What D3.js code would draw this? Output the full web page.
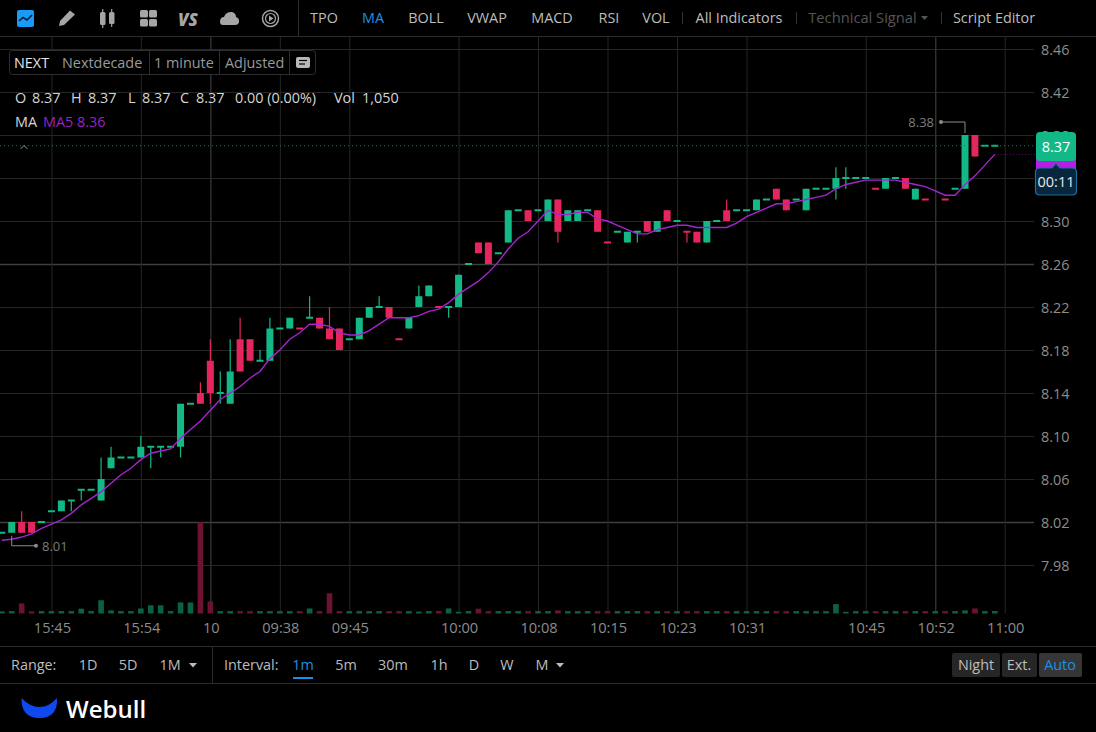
<!DOCTYPE html>
<html>
<head>
<meta charset="utf-8">
<script src="https://cdn.jsdelivr.net/npm/d3@7"></script>
<style>
  html, body { margin: 0; padding: 0; background: #000; overflow: hidden; }
  text { font-family: "Open Sans", sans-serif; }
</style>
</head>
<body>
<div id="wrapper"></div>
<script>
// 1. Data (one entry per minute bar, null = no bar drawn)
const opens = [8.01,8.01,8.02,8.02,8.02,8.03,8.03,8.04,8.05,8.05,
  8.04,8.07,8.08,8.08,8.08,8.09,8.09,8.09,8.09,8.13,
  8.14,8.17,8.14,8.13,8.19,8.19,8.17,8.17,8.20,8.20,
  8.20,8.21,8.21,8.20,8.20,8.19,8.19,8.21,8.22,8.22,
  8.19,8.20,8.22,8.23,8.22,8.22,8.22,8.26,8.28,8.28,
  8.27,8.28,8.31,8.31,8.31,8.30,8.32,8.30,8.30,8.31,
  8.31,8.28,8.29,8.28,8.29,8.30,8.29,8.31,8.30,8.29,
  8.29,8.28,8.30,8.31,8.31,8.31,8.31,8.32,8.33,8.32,
  8.32,8.31,8.33,8.33,8.33,8.34,8.34,8.34,8.33,8.33,
  8.34,8.34,8.32,8.32,null,8.32,8.33,8.33,8.38,8.37,8.37];
const highs = [8.01,8.02,8.03,8.02,8.02,8.03,8.04,8.04,8.05,8.05,
  8.08,8.09,8.08,8.08,8.10,8.09,8.09,8.09,8.13,8.13,
  8.15,8.19,8.16,8.19,8.21,8.19,8.18,8.21,8.20,8.21,
  8.20,8.23,8.21,8.22,8.20,8.19,8.21,8.22,8.23,8.22,
  8.19,8.21,8.24,8.24,8.22,8.22,8.25,8.26,8.28,8.28,
  8.27,8.31,8.31,8.31,8.31,8.32,8.32,8.31,8.31,8.31,
  8.31,8.28,8.29,8.29,8.29,8.30,8.30,8.31,8.30,8.29,
  8.29,8.30,8.30,8.32,8.31,8.31,8.32,8.32,8.33,8.32,
  8.32,8.33,8.33,8.33,8.35,8.35,8.34,8.34,8.33,8.34,
  8.34,8.34,8.33,8.32,null,8.32,8.33,8.38,8.38,8.37,8.37];
const lows = [8.01,8.01,8.01,8.01,8.02,8.03,8.03,8.03,8.04,8.05,
  8.04,8.07,8.08,8.08,8.08,8.07,8.08,8.09,8.08,8.13,
  8.13,8.13,8.13,8.13,8.16,8.17,8.17,8.17,8.20,8.20,
  8.20,8.21,8.20,8.19,8.18,8.19,8.19,8.21,8.22,8.21,
  8.19,8.20,8.22,8.23,8.22,8.21,8.22,8.26,8.27,8.26,
  8.27,8.28,8.31,8.30,8.31,8.30,8.28,8.30,8.30,8.31,
  8.29,8.28,8.29,8.28,8.28,8.29,8.29,8.30,8.30,8.28,
  8.28,8.28,8.30,8.30,8.31,8.31,8.31,8.32,8.32,8.31,
  8.32,8.31,8.33,8.33,8.32,8.33,8.34,8.34,8.33,8.33,
  8.34,8.33,8.32,8.32,null,8.32,8.33,8.33,8.36,8.37,8.37];
const closes = [8.01,8.02,8.01,8.01,8.02,8.03,8.04,8.04,8.05,8.05,
  8.06,8.08,8.08,8.08,8.09,8.09,8.09,8.09,8.13,8.13,
  8.13,8.14,8.14,8.16,8.16,8.17,8.17,8.20,8.20,8.21,
  8.20,8.21,8.20,8.19,8.18,8.19,8.21,8.22,8.22,8.21,
  8.19,8.21,8.23,8.24,8.22,8.22,8.25,8.26,8.27,8.26,
  8.27,8.31,8.31,8.30,8.31,8.32,8.29,8.31,8.31,8.31,
  8.29,8.28,8.29,8.29,8.29,8.29,8.30,8.30,8.30,8.29,
  8.28,8.30,8.30,8.30,8.31,8.31,8.32,8.32,8.32,8.31,
  8.32,8.33,8.33,8.33,8.34,8.34,8.34,8.34,8.33,8.34,
  8.34,8.33,8.33,8.32,null,8.32,8.33,8.38,8.36,8.37,8.37];
// bars that open and close level but are painted red
const redFlat = [30, 40, 44, 61, 69, 88, 93, 95];
const volumes = [900,1000,4200,900,1000,1000,1000,1000,2000,1000,
  5500,1300,1000,1000,2100,3400,3400,1000,4600,4600,
  38000,5000,1000,1000,1000,1000,1000,1000,1000,1000,
  1000,2100,1000,8400,1000,1000,1000,1000,1000,1000,
  1000,1000,800,1000,1000,2100,700,1000,2000,1000,
  1000,1000,1000,1000,1000,1000,1300,1000,1000,1000,
  1000,1000,1000,1000,1000,1000,1000,1000,1000,1000,
  1000,1000,1000,1000,1000,1000,1000,1000,1000,1000,
  1000,1000,1000,1000,3900,700,1000,1000,1000,1000,
  1000,1000,1000,1000,1000,1000,1000,1300,2100,1000,1050];
const ma5 = [8.003,8.004,8.006,8.009,8.014,8.018,8.022,8.028,8.036,8.042,
  8.048,8.056,8.064,8.070,8.078,8.084,8.086,8.088,8.098,8.106,
  8.114,8.124,8.134,8.140,8.146,8.154,8.160,8.172,8.180,8.190,
  8.196,8.204,8.204,8.202,8.196,8.194,8.194,8.198,8.204,8.210,
  8.210,8.210,8.212,8.216,8.218,8.224,8.232,8.238,8.244,8.252,
  8.262,8.274,8.284,8.290,8.300,8.310,8.306,8.306,8.308,8.308,
  8.302,8.300,8.296,8.292,8.288,8.288,8.292,8.294,8.296,8.296,
  8.294,8.294,8.294,8.294,8.298,8.304,8.308,8.312,8.316,8.316,
  8.318,8.320,8.322,8.324,8.330,8.334,8.336,8.338,8.338,8.338,
  8.338,8.336,8.334,8.332,8.328,8.324,8.324,8.334,8.342,8.352,8.362];
const priceTicks = [7.98,8.02,8.06,8.10,8.14,8.18,8.22,8.26,8.30,8.34,8.38,8.42,8.46];
const timeIdx = [5,14,21,28,35,46,54,61,68,75,87,94,101];
const timeLabels = ['15:45','15:54','10','09:38','09:45','10:00','10:08','10:15','10:23','10:31','10:45','10:52','11:00'];
const strongPrices = [8.02, 8.26];
const strongTimes = [21, 94];
const lastPrice = 8.37;
const lastMa = 8.362;
const highMark = 8.38;
const lowMark = 8.01;

const bars = closes.map((c, i) => ({ i, o: opens[i], h: highs[i], l: lows[i], c, v: volumes[i] }));
const isRed = (d) => d.c < d.o || redFlat.includes(d.i);

// 2. Colours and scales
const GREEN = '#12b886';
const RED = '#e5265c';
const VOL_GREEN = '#0b6148';
const VOL_RED = '#6d1330';
const PURPLE = '#a524cf';
const GRAY = '#8c8c8c';
const LIGHT = '#bdbdbd';
const BLUE = '#1d8fe1';

const x = d3.scaleLinear().domain([0, 100]).range([1.8, 994.8]);
const y = d3.scaleLinear().domain([8.02, 8.46]).range([522, 49]);
const yVol = d3.scaleLinear().domain([0, 38000]).range([613.5, 522]);

const svg = d3.select('#wrapper').append('svg').attr('width', 1096).attr('height', 732)
  .style('display', 'block').style('background', '#000');

function label(px, py, str, color, opts = {}) {
  return svg.append('text').attr('x', px).attr('y', py).text(str)
    .attr('fill', color)
    .attr('font-size', opts.size || 14.4)
    .attr('font-weight', opts.weight || 400)
    .attr('font-style', opts.style || 'normal')
    .attr('text-anchor', opts.anchor || 'start');
}
function line(x1, y1, x2, y2, color, w = 1) {
  return svg.append('line').attr('x1', x1).attr('y1', y1).attr('x2', x2).attr('y2', y2)
    .attr('stroke', color).attr('stroke-width', w);
}

// 3. Axes and grid
const yAxis = d3.axisRight(y).tickValues(priceTicks).tickSize(1034).tickPadding(7).tickFormat(d3.format('.2f'));
const gy = svg.append('g').call(yAxis);
const xAxis = d3.axisBottom(x).tickValues(timeIdx).tickSizeInner(-576).tickSizeOuter(0).tickPadding(10)
  .tickFormat((d, i) => timeLabels[i]);
const gx = svg.append('g').attr('transform', 'translate(0,613)').call(xAxis);
gy.select('.domain').remove();
gx.select('.domain').remove();
gy.selectAll('line').attr('stroke', (d) => (strongPrices.includes(d) ? '#3f3f3f' : '#262626'))
  .attr('stroke-width', (d) => (strongPrices.includes(d) ? 1.6 : 1));
gx.selectAll('line').attr('stroke', (d) => (strongTimes.includes(d) ? '#323232' : '#262626'))
  .attr('stroke-width', (d) => (strongTimes.includes(d) ? 1.4 : 1));
svg.selectAll('.tick text').attr('fill', GRAY).attr('font-family', '"Open Sans", sans-serif');
gy.selectAll('.tick text').attr('font-size', 14.4).attr('dy', '0.4em');
gx.selectAll('.tick text').attr('font-size', 14.6).attr('dx', 0.5);

// 4. Volume
svg.append('g').selectAll('rect').data(bars).enter().append('rect')
  .attr('x', (d) => x(d.i) - 2.8)
  .attr('y', (d) => yVol(d.v))
  .attr('width', 5.6)
  .attr('height', (d) => yVol(0) - yVol(d.v))
  .attr('fill', (d) => (isRed(d) ? VOL_RED : VOL_GREEN));

// 5. Candles
const candles = bars.filter((d) => d.c !== null);
svg.append('g').selectAll('line').data(candles).enter().append('line')
  .attr('x1', (d) => x(d.i)).attr('x2', (d) => x(d.i))
  .attr('y1', (d) => y(d.h)).attr('y2', (d) => y(d.l))
  .attr('stroke-width', 1.2)
  .attr('stroke', (d) => (isRed(d) ? RED : GREEN));
svg.append('g').selectAll('rect').data(candles).enter().append('rect')
  .attr('x', (d) => x(d.i) - 3.5)
  .attr('y', (d) => (d.o === d.c ? y(d.c) - 1 : y(Math.max(d.o, d.c))))
  .attr('width', 7)
  .attr('height', (d) => (d.o === d.c ? 2 : y(Math.min(d.o, d.c)) - y(Math.max(d.o, d.c))))
  .attr('fill', (d) => (isRed(d) ? RED : GREEN));

// 6. MA line and last price guides
const maLine = d3.line().x((d, i) => x(i)).y((d) => y(d));
svg.append('path').attr('d', maLine(ma5)).attr('fill', 'none').attr('stroke', PURPLE).attr('stroke-width', 1.4);
line(x(100), y(lastMa), 1036, y(lastMa), '#5a1670').attr('stroke-dasharray', '1 2');
line(0, y(lastPrice), 1036, y(lastPrice), '#14785a').attr('stroke-dasharray', '1 3');

// high / low markers
const hx = x(97);
svg.append('path').attr('fill', 'none').attr('stroke', GRAY)
  .attr('d', `M${hx},${y(highMark) - 2}V${y(highMark) - 13}H941`);
svg.append('circle').attr('cx', 941).attr('cy', y(highMark) - 13).attr('r', 2).attr('fill', GRAY);
label(934, y(highMark) - 8, highMark.toFixed(2), '#7c7c7c', { anchor: 'end', size: 13 });
const lx = x(1);
svg.append('path').attr('fill', 'none').attr('stroke', GRAY)
  .attr('d', `M${lx},${y(lowMark) + 3}V${y(lowMark) + 13}H36`);
svg.append('circle').attr('cx', 36).attr('cy', y(lowMark) + 13).attr('r', 2).attr('fill', GRAY);
label(42, y(lowMark) + 18, lowMark.toFixed(2), '#7c7c7c', { size: 13 });

// price tags
svg.append('rect').attr('x', 1036).attr('y', 156).attr('width', 40).attr('height', 14).attr('fill', '#b31fe6');
svg.append('rect').attr('x', 1036).attr('y', 132).attr('width', 40).attr('height', 29).attr('rx', 4).attr('fill', GREEN);
label(1056, 152, lastPrice.toFixed(2), '#fff', { anchor: 'middle', size: 14.5 });
svg.append('path').attr('fill', '#08263d').attr('stroke', '#256b9c').attr('stroke-width', 1.2)
  .attr('d', 'M1040,168H1052L1056,163.5L1060,168H1072Q1076.5,168 1076.5,172V191Q1076.5,195 1072,195H1040Q1035.5,195 1035.5,191V172Q1035.5,168 1040,168Z');
label(1056, 187, '00:11', '#e8e8e8', { anchor: 'middle', size: 14.5 });

// 7. Top toolbar
svg.append('rect').attr('x', 0).attr('y', 0).attr('width', 1096).attr('height', 37).attr('fill', '#000');
line(0, 36.5, 1096, 36.5, '#2c2c2c');
line(298.5, 0, 298.5, 36, '#2c2c2c');
const iconGray = '#a6a6a6';
svg.append('rect').attr('x', 17).attr('y', 10).attr('width', 17).attr('height', 17).attr('rx', 2).attr('fill', '#1a9af5');
svg.append('path').attr('d', 'M19,21L23,17.5L27,20L32,15').attr('fill', 'none').attr('stroke', '#06223a').attr('stroke-width', 1.6);
svg.append('path').attr('fill', iconGray).attr('d', 'M59,26L60,21L70,10.5L75,14.5L64,25Z');
svg.append('rect').attr('x', 100).attr('y', 12).attr('width', 5.5).attr('height', 13).attr('rx', 1.5).attr('fill', iconGray);
svg.append('rect').attr('x', 109).attr('y', 12).attr('width', 5.5).attr('height', 12).attr('rx', 1.5).attr('fill', iconGray);
line(102.7, 9, 102.7, 28, iconGray, 1.2);
line(111.7, 9, 111.7, 27, iconGray, 1.2);
[[140, 10], [149, 10], [140, 19], [149, 19]].forEach((p) => {
  svg.append('rect').attr('x', p[0]).attr('y', p[1]).attr('width', 8).attr('height', 7.5).attr('rx', 1.5).attr('fill', iconGray);
});
label(178, 25.5, 'VS', iconGray, { size: 17, weight: 800, style: 'italic' });
svg.append('path').attr('fill', iconGray)
  .attr('d', 'M220,22Q220,17 224,17Q226,11.5 232,12Q236,13 236,17Q239.5,18 239,22Q238.5,25 235,25H223Q220,25 220,22Z');
svg.append('circle').attr('cx', 270.5).attr('cy', 18.5).attr('r', 8).attr('fill', 'none').attr('stroke', iconGray).attr('stroke-width', 1.5);
svg.append('circle').attr('cx', 270.5).attr('cy', 18.5).attr('r', 5).attr('fill', 'none').attr('stroke', iconGray).attr('stroke-width', 1.2);
svg.append('path').attr('d', 'M269,15.5L273.5,18.5L269,21.5Z').attr('fill', iconGray);
label(324, 23, 'TPO', LIGHT, { anchor: 'middle' });
label(373, 23, 'MA', BLUE, { anchor: 'middle' });
label(426, 23, 'BOLL', LIGHT, { anchor: 'middle' });
label(487, 23, 'VWAP', LIGHT, { anchor: 'middle' });
label(552, 23, 'MACD', LIGHT, { anchor: 'middle' });
label(609, 23, 'RSI', LIGHT, { anchor: 'middle' });
label(656, 23, 'VOL', LIGHT, { anchor: 'middle' });
label(739, 23, 'All Indicators', LIGHT, { anchor: 'middle' });
label(862.5, 23, 'Technical Signal', '#555', { anchor: 'middle', size: 14.7 });
label(994, 23, 'Script Editor', LIGHT, { anchor: 'middle' });
svg.append('path').attr('d', 'M921,16H928L924.5,20Z').attr('fill', '#555');
line(682.5, 12, 682.5, 24, '#333');
line(796.5, 12, 796.5, 24, '#333');
line(941.5, 12, 941.5, 24, '#333');

// 8. Legend box and OHLC readout
svg.append('rect').attr('x', 9.5).attr('y', 50.5).attr('width', 306).attr('height', 24).attr('rx', 3)
  .attr('fill', '#000').attr('stroke', '#2e2e2e');
line(149.5, 51, 149.5, 74, '#2e2e2e');
line(219.5, 51, 219.5, 74, '#2e2e2e');
line(289.5, 51, 289.5, 74, '#2e2e2e');
label(14, 68, 'NEXT', '#e6e6e6');
label(62, 68, 'Nextdecade', '#9a9a9a');
label(154, 68, '1 minute', '#9a9a9a');
label(225, 68, 'Adjusted', '#9a9a9a');
svg.append('rect').attr('x', 296).attr('y', 57).attr('width', 14).attr('height', 11).attr('rx', 2).attr('fill', '#b8b8b8');
line(299, 60.5, 307, 60.5, '#000', 1.2);
line(299, 64, 305, 64, '#000', 1.2);
[['O', 15], ['8.37', 32], ['H', 71], ['8.37', 88], ['L', 128], ['8.37', 142], ['C', 180], ['8.37', 196], ['0.00 (0.00%)', 235], ['Vol', 334], ['1,050', 362]]
  .forEach((t) => label(t[1], 103, t[0], '#d6d6d6'));
label(15, 127, 'MA', '#d6d6d6');
label(43, 127, 'MA5 8.36', '#9a22c4');
svg.append('path').attr('d', 'M20.5,149L24,145.5L27.5,149').attr('fill', 'none').attr('stroke', '#999').attr('stroke-width', 1);

// 9. Bottom bar
line(0, 646.5, 1096, 646.5, '#2c2c2c');
line(0, 683.5, 1096, 683.5, '#2c2c2c');
line(212.5, 647, 212.5, 683, '#2c2c2c');
label(11, 670, 'Range:', LIGHT);
label(88, 670, '1D', LIGHT, { anchor: 'middle' });
label(128, 670, '5D', LIGHT, { anchor: 'middle' });
label(170, 670, '1M', LIGHT, { anchor: 'middle' });
svg.append('path').attr('d', 'M189,663H197L193,667.5Z').attr('fill', LIGHT);
label(224, 670, 'Interval:', LIGHT);
label(303, 670, '1m', BLUE, { anchor: 'middle' });
svg.append('rect').attr('x', 293).attr('y', 677).attr('width', 20).attr('height', 2).attr('fill', BLUE);
label(346, 670, '5m', LIGHT, { anchor: 'middle' });
label(393, 670, '30m', LIGHT, { anchor: 'middle' });
label(439, 670, '1h', LIGHT, { anchor: 'middle' });
label(474, 670, 'D', LIGHT, { anchor: 'middle' });
label(507, 670, 'W', LIGHT, { anchor: 'middle' });
label(542, 670, 'M', LIGHT, { anchor: 'middle' });
svg.append('path').attr('d', 'M556,663H564L560,667.5Z').attr('fill', LIGHT);
svg.append('rect').attr('x', 952).attr('y', 653).attr('width', 48).attr('height', 24).attr('rx', 2).attr('fill', '#262626');
svg.append('rect').attr('x', 1002).attr('y', 653).attr('width', 35).attr('height', 24).attr('rx', 2).attr('fill', '#262626');
svg.append('rect').attr('x', 1039).attr('y', 653).attr('width', 43).attr('height', 24).attr('rx', 2).attr('fill', '#363636');
label(976, 670, 'Night', LIGHT, { anchor: 'middle' });
label(1019, 670, 'Ext.', LIGHT, { anchor: 'middle' });
label(1060, 670, 'Auto', BLUE, { anchor: 'middle' });

// logo
svg.append('path').attr('fill', '#1048f0').attr('d', 'M21.5,698Q30,707 39.5,707Q49,707 57,698Q58,718 39.5,718Q21,718 21.5,698Z');
label(66, 717.5, 'Webull', '#fff', { size: 24, weight: 600 });
</script>
</body>
</html>
